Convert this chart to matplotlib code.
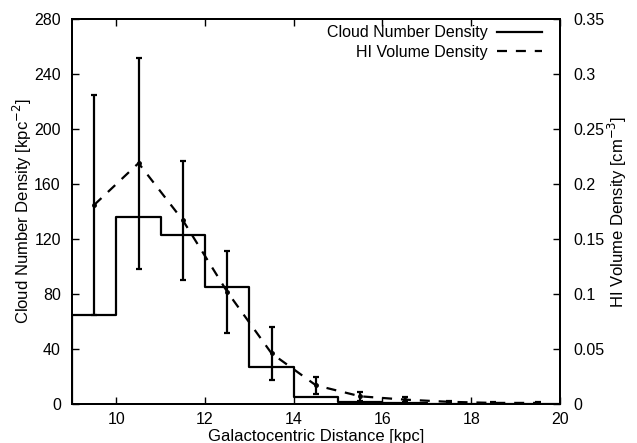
import numpy as np
import matplotlib
matplotlib.use("Agg")
import matplotlib.pyplot as plt

plt.rcParams['font.family'] = ['Liberation Sans', 'DejaVu Sans']
plt.rcParams['font.size'] = 11.5

# histogram of cloud number density (bin edges in kpc)
bin_edges = [9, 10, 11, 12, 13, 14, 15, 16, 17, 18, 19, 20]
cloud_density = [65, 136, 123, 85, 27, 5.3, 1.2, 0.5, 0, 0, 0]

# HI volume density at bin centres, with errors
hi_r = [9.5, 10.5, 11.5, 12.5, 13.5, 14.5, 15.5, 16.5, 17.5, 18.5, 19.5]
hi_density = [0.181, 0.219, 0.167, 0.102, 0.046, 0.017, 0.007, 0.004, 0.002, 0.001, 0.001]
hi_err = [0.100, 0.096, 0.054, 0.037, 0.024, 0.008, 0.004, 0.002, 0.001, 0.001, 0.001]

fig = plt.figure(figsize=(6.37, 4.43), dpi=100)
ax = fig.add_axes([0.113, 0.088, 0.766, 0.869])
ax2 = ax.twinx()

# step outline like gnuplot histeps
xs = np.repeat(bin_edges, 2)
ys = np.concatenate([[0], np.repeat(cloud_density, 2), [0]])
l1, = ax.plot(xs, ys, color='black', lw=1.6, label='Cloud Number Density')

l2, = ax2.plot(hi_r, hi_density, color='black', lw=1.6, ls=(0, (4.5, 4)),
               label='HI Volume Density')
ax2.errorbar(hi_r, hi_density, yerr=hi_err, fmt='o', ms=2.5, color='black',
             elinewidth=1.6, capsize=2.5, capthick=1.6)

ax.set_xlim(9, 20)
ax.set_ylim(0, 280)
ax2.set_ylim(0, 0.35)
ax.set_xticks([10, 12, 14, 16, 18, 20])
ax.set_yticks(np.arange(0, 281, 40))
ax2.set_yticks([0, 0.05, 0.1, 0.15, 0.2, 0.25, 0.3, 0.35])
ax2.set_yticklabels(['0', '0.05', '0.1', '0.15', '0.2', '0.25', '0.3', '0.35'])

ax.tick_params(direction='in', top=True, length=5, width=1, pad=8)
ax.tick_params(axis='x', pad=6)
ax2.tick_params(direction='in', length=5, width=1, pad=10)
for a in (ax, ax2):
    for s in a.spines.values():
        s.set_linewidth(1.4)

ax.set_xlabel('Galactocentric Distance [kpc]', fontsize=12, labelpad=1)
ax.set_ylabel('Cloud Number Density [kpc$^{-2}$]', fontsize=12, labelpad=0)
ax2.set_ylabel('HI Volume Density [cm$^{-3}$]', fontsize=12, labelpad=1)

leg = ax.legend([l1, l2], ['Cloud Number Density', 'HI Volume Density'],
                loc='upper right', bbox_to_anchor=(0.963, 0.984),
                frameon=False, markerfirst=False, handlelength=2.8,
                borderaxespad=0, borderpad=0, labelspacing=0.28,
                handletextpad=0.6)

fig.savefig('out.png', dpi=100)
